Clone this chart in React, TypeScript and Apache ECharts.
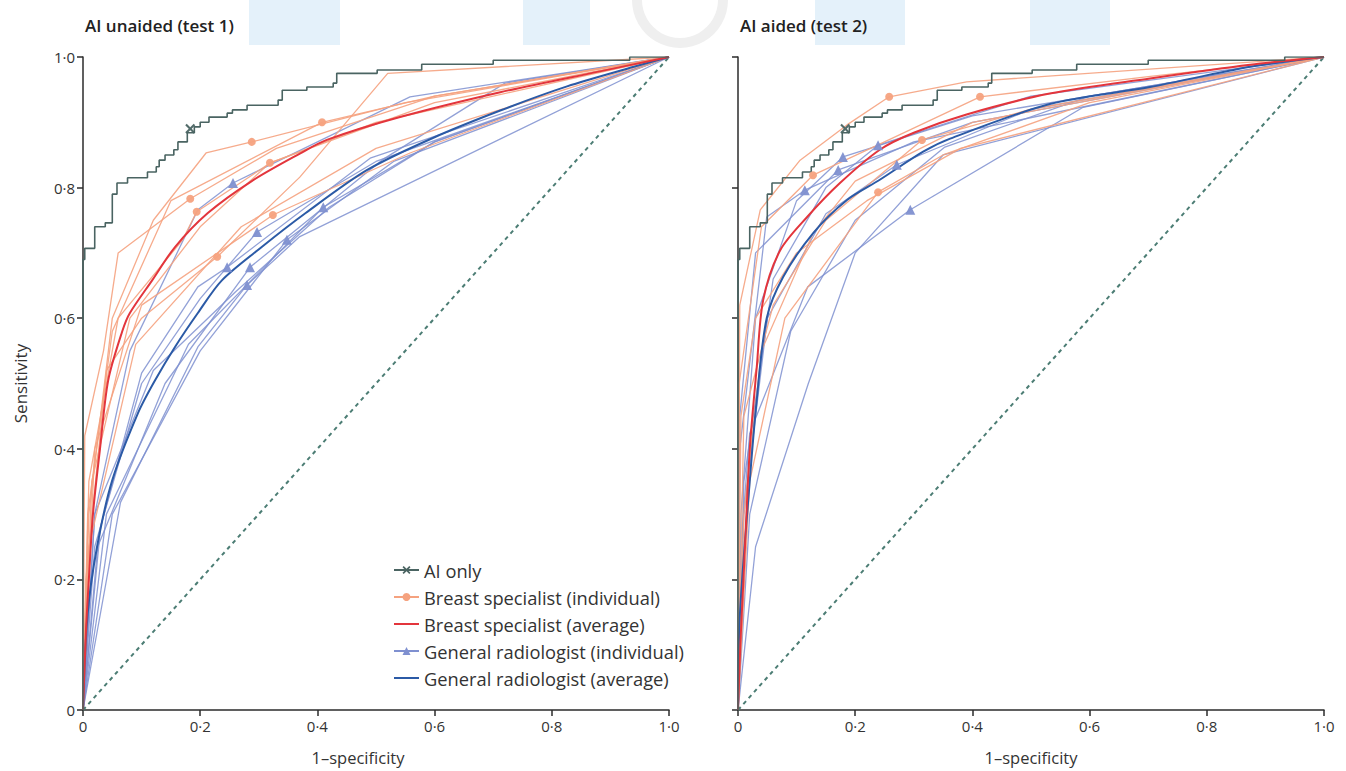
import React, { useEffect, useRef } from "react";
import * as echarts from "echarts";

type P = [number, number];

// ---------- data ----------
const aiOnly: P[] = [
  [0, 0], [0, 0.69], [0.003, 0.69], [0.003, 0.707], [0.02, 0.707], [0.02, 0.74], [0.038, 0.74],
  [0.038, 0.746], [0.05, 0.746], [0.05, 0.79], [0.058, 0.79], [0.058, 0.807], [0.076, 0.807],
  [0.076, 0.815], [0.11, 0.815], [0.11, 0.824], [0.125, 0.824], [0.125, 0.832], [0.13, 0.832],
  [0.13, 0.842], [0.14, 0.842], [0.14, 0.85], [0.155, 0.85], [0.155, 0.858], [0.162, 0.858],
  [0.162, 0.87], [0.178, 0.87], [0.178, 0.884], [0.19, 0.884], [0.19, 0.893], [0.2, 0.893],
  [0.2, 0.9], [0.215, 0.9], [0.215, 0.908], [0.246, 0.908], [0.246, 0.914], [0.255, 0.914],
  [0.255, 0.919], [0.28, 0.919], [0.28, 0.926], [0.333, 0.926], [0.333, 0.934], [0.34, 0.934],
  [0.34, 0.949], [0.382, 0.949], [0.382, 0.954], [0.427, 0.954], [0.427, 0.96], [0.433, 0.96],
  [0.433, 0.975], [0.502, 0.975], [0.502, 0.98], [0.578, 0.98], [0.578, 0.989], [0.7, 0.989],
  [0.7, 0.995], [0.933, 0.995], [0.933, 1.0], [1, 1],
];
const aiPoint: P = [0.183, 0.89];
const chance: P[] = [[0, 0], [1, 1]];

// Test 1 (AI unaided)
const breastAvg1: P[] = [
  [0, 0], [0.005, 0.12], [0.01, 0.2], [0.017, 0.3], [0.029, 0.4], [0.043, 0.505], [0.067, 0.58],
  [0.08, 0.608], [0.118, 0.658], [0.157, 0.709], [0.213, 0.761], [0.288, 0.81], [0.37, 0.852],
  [0.416, 0.873], [0.541, 0.908], [0.712, 0.946], [0.882, 0.978], [1, 1],
];
const generalAvg1: P[] = [
  [0, 0], [0.008, 0.148], [0.024, 0.25], [0.05, 0.352], [0.094, 0.455], [0.123, 0.505],
  [0.157, 0.556], [0.196, 0.608], [0.237, 0.658], [0.305, 0.709], [0.38, 0.761], [0.485, 0.827],
  [0.597, 0.876], [0.712, 0.918], [0.826, 0.955], [0.94, 0.985], [1, 1],
];
const breastInd1: P[][] = [
  [[0, 0], [0.003, 0.42], [0.035, 0.55], [0.06, 0.70], [0.183, 0.783], [0.33, 0.86], [0.6, 0.94], [1, 1]],
  [[0, 0], [0.01, 0.3], [0.05, 0.6], [0.12, 0.75], [0.21, 0.853], [0.288, 0.87], [0.55, 0.93], [1, 1]],
  [[0, 0], [0.005, 0.2], [0.04, 0.52], [0.1, 0.6], [0.229, 0.694], [0.37, 0.816], [0.52, 0.975], [1, 1]],
  [[0, 0], [0.02, 0.4], [0.1, 0.62], [0.324, 0.758], [0.558, 0.853], [1, 1]],
  [[0, 0], [0.01, 0.35], [0.06, 0.6], [0.17, 0.72], [0.194, 0.763], [0.32, 0.838], [0.5, 0.9], [1, 1]],
  [[0, 0], [0.008, 0.3], [0.05, 0.58], [0.15, 0.78], [0.408, 0.9], [0.6, 0.94], [1, 1]],
  [[0, 0], [0.015, 0.35], [0.08, 0.6], [0.2, 0.74], [0.319, 0.838], [0.6, 0.93], [1, 1]],
  [[0, 0], [0.01, 0.25], [0.09, 0.56], [0.27, 0.74], [0.5, 0.86], [1, 1]],
];
const breastPts1: P[] = [
  [0.183, 0.783], [0.288, 0.87], [0.229, 0.694], [0.324, 0.758], [0.194, 0.763], [0.408, 0.9], [0.319, 0.838],
];
const generalInd1: P[][] = [
  [[0, 0], [0.02, 0.3], [0.08, 0.55], [0.196, 0.766], [0.256, 0.807], [0.558, 0.939], [1, 1]],
  [[0, 0], [0.02, 0.25], [0.1, 0.5], [0.2, 0.63], [0.297, 0.732], [0.5, 0.84], [1, 1]],
  [[0, 0], [0.03, 0.28], [0.1, 0.516], [0.196, 0.648], [0.246, 0.678], [0.49, 0.845], [1, 1]],
  [[0, 0], [0.025, 0.25], [0.14, 0.5], [0.285, 0.678], [0.51, 0.842], [0.72, 0.96], [1, 1]],
  [[0, 0], [0.064, 0.318], [0.196, 0.556], [0.28, 0.651], [0.37, 0.725], [1, 1]],
  [[0, 0], [0.05, 0.3], [0.2, 0.55], [0.348, 0.72], [0.53, 0.84], [1, 1]],
  [[0, 0], [0.04, 0.3], [0.18, 0.56], [0.41, 0.77], [0.6, 0.87], [1, 1]],
  [[0, 0], [0.02, 0.3], [0.12, 0.52], [0.26, 0.64], [0.42, 0.77], [0.6, 0.87], [1, 1]],
];
const generalPts1: P[] = [
  [0.256, 0.807], [0.297, 0.732], [0.246, 0.678], [0.285, 0.678], [0.28, 0.651], [0.348, 0.72], [0.41, 0.77],
];

// Test 2 (AI aided)
const breastAvg2: P[] = [
  [0, 0], [0.004, 0.1], [0.009, 0.194], [0.02, 0.398], [0.032, 0.525], [0.043, 0.628], [0.072, 0.704],
  [0.118, 0.755], [0.174, 0.807], [0.242, 0.858], [0.3, 0.884], [0.39, 0.912], [0.532, 0.944],
  [0.703, 0.967], [0.874, 0.988], [1, 1],
];
const generalAvg2: P[] = [
  [0, 0], [0.003, 0.142], [0.02, 0.35], [0.032, 0.475], [0.049, 0.6], [0.077, 0.663], [0.128, 0.73],
  [0.186, 0.781], [0.242, 0.812], [0.316, 0.855], [0.362, 0.875], [0.532, 0.928], [0.703, 0.954],
  [0.874, 0.985], [1, 1],
];
const breastInd2: P[][] = [
  [[0, 0], [0.003, 0.62], [0.038, 0.766], [0.106, 0.842], [0.186, 0.896], [0.258, 0.939], [0.39, 0.962], [1, 1]],
  [[0, 0], [0.002, 0.5], [0.04, 0.74], [0.128, 0.819], [0.25, 0.87], [0.413, 0.939], [0.7, 0.97], [1, 1]],
  [[0, 0], [0.01, 0.45], [0.06, 0.62], [0.15, 0.75], [0.314, 0.873], [0.5, 0.92], [1, 1]],
  [[0, 0], [0.02, 0.35], [0.08, 0.6], [0.239, 0.793], [0.35, 0.85], [0.6, 0.93], [1, 1]],
  [[0, 0], [0.01, 0.3], [0.04, 0.55], [0.128, 0.73], [0.2, 0.81], [0.4, 0.9], [1, 1]],
  [[0, 0], [0.005, 0.45], [0.03, 0.6], [0.1, 0.7], [0.22, 0.78], [0.38, 0.86], [1, 1]],
];
const breastPts2: P[] = [[0.258, 0.939], [0.413, 0.939], [0.128, 0.819], [0.314, 0.873], [0.239, 0.793]];
const generalInd2: P[][] = [
  [[0, 0], [0.003, 0.4], [0.049, 0.755], [0.114, 0.796], [0.3, 0.87], [1, 1]],
  [[0, 0], [0.005, 0.25], [0.02, 0.424], [0.119, 0.648], [0.294, 0.766], [0.589, 0.923], [1, 1]],
  [[0, 0], [0.005, 0.3], [0.03, 0.6], [0.1, 0.78], [0.179, 0.847], [0.4, 0.91], [1, 1]],
  [[0, 0], [0.01, 0.35], [0.06, 0.66], [0.15, 0.8], [0.239, 0.865], [0.5, 0.94], [1, 1]],
  [[0, 0], [0.01, 0.3], [0.05, 0.6], [0.15, 0.76], [0.271, 0.835], [0.5, 0.92], [1, 1]],
  [[0, 0], [0.02, 0.3], [0.09, 0.58], [0.2, 0.75], [0.353, 0.862], [0.6, 0.94], [1, 1]],
  [[0, 0], [0.003, 0.45], [0.03, 0.7], [0.171, 0.827], [0.4, 0.9], [1, 1]],
  [[0, 0], [0.03, 0.25], [0.12, 0.5], [0.2, 0.7], [0.35, 0.85], [1, 1]],
];
const generalPts2: P[] = [
  [0.114, 0.796], [0.294, 0.766], [0.179, 0.847], [0.239, 0.865], [0.271, 0.835], [0.171, 0.827],
];

const legendNames = [
  "AI only",
  "Breast specialist (individual)",
  "Breast specialist (average)",
  "General radiologist (individual)",
  "General radiologist (average)",
];

// ---------- styles ----------
const C_AI = "#4a6462";
const C_BI = "#f5a27f";
const C_BA = "#e3353c";
const C_GI = "#7f90d0";
const C_GA = "#2b5aa6";
const C_DIAG = "#4c7d74";
const FONT = "'Open Sans', Lato, sans-serif";
const X_SYMBOL = "path://M1.5,0L5,3.5L8.5,0L10,1.5L6.5,5L10,8.5L8.5,10L5,6.5L1.5,10L0,8.5L3.5,5L0,1.5Z";

const fmt = (v: number) => (v === 0 ? "0" : v.toFixed(1).replace(".", "·"));

export default function App() {
  const ref = useRef<HTMLDivElement>(null);
  useEffect(() => {
    if (!ref.current) return;
    const chart = echarts.init(ref.current, undefined, { renderer: "svg" });

    const line = (data: P[], color: string, width: number, i: number, z: number, extra: any = {}) => ({
      type: "line",
      xAxisIndex: i,
      yAxisIndex: i,
      data,
      symbol: "none",
      silent: true,
      z,
      lineStyle: { color, width },
      ...extra,
    });
    const scatter = (data: P[], color: string, symbol: string, size: number, i: number, z: number) => ({
      type: "scatter",
      xAxisIndex: i,
      yAxisIndex: i,
      data,
      symbol,
      symbolSize: size,
      silent: true,
      z,
      itemStyle: { color, opacity: 0.95 },
    });

    const series: any[] = [
      // legend-only series
      { type: "line", name: legendNames[0], data: [], symbol: X_SYMBOL, symbolSize: 10, itemStyle: { color: C_AI }, lineStyle: { color: C_AI, width: 2 } },
      { type: "line", name: legendNames[1], data: [], symbol: "circle", symbolSize: 8, itemStyle: { color: C_BI }, lineStyle: { color: C_BI, width: 2 } },
      { type: "line", name: legendNames[2], data: [], symbol: "circle", itemStyle: { color: C_BA, opacity: 0 }, lineStyle: { color: C_BA, width: 2, opacity: 1 } },
      { type: "line", name: legendNames[3], data: [], symbol: "triangle", symbolSize: 9, itemStyle: { color: C_GI }, lineStyle: { color: C_GI, width: 2 } },
      { type: "line", name: legendNames[4], data: [], symbol: "circle", itemStyle: { color: C_GA, opacity: 0 }, lineStyle: { color: C_GA, width: 2, opacity: 1 } },
    ];

    const panels = [
      { bi: breastInd1, bp: breastPts1, gi: generalInd1, gp: generalPts1, ba: breastAvg1, ga: generalAvg1 },
      { bi: breastInd2, bp: breastPts2, gi: generalInd2, gp: generalPts2, ba: breastAvg2, ga: generalAvg2 },
    ];
    panels.forEach((p, i) => {
      series.push(line(chance, C_DIAG, 2, i, 1, { lineStyle: { color: C_DIAG, width: 2, type: [4, 4] } }));
      p.gi.forEach((d) => series.push(line(d, C_GI, 1.3, i, 2, { lineStyle: { color: C_GI, width: 1.3, opacity: 0.85 } })));
      p.bi.forEach((d) => series.push(line(d, C_BI, 1.3, i, 3, { lineStyle: { color: C_BI, width: 1.3, opacity: 0.9 } })));
      series.push(line(p.ga, C_GA, 2, i, 5, { smooth: 0.3 }));
      series.push(line(p.ba, C_BA, 2, i, 5, { smooth: 0.3 }));
      series.push(line(aiOnly, C_AI, 1.6, i, 6));
      series.push(scatter(p.bp, C_BI, "circle", 8, i, 7));
      series.push(scatter(p.gp, C_GI, "triangle", 10, i, 7));
      series.push(scatter([aiPoint], C_AI, X_SYMBOL, 10, i, 8));
    });

    const axisCommon = {
      type: "value",
      min: 0,
      max: 1,
      interval: 0.2,
      splitLine: { show: false },
      axisLine: { show: true, lineStyle: { color: "#2b2b2b", width: 1.5 } },
      axisTick: { show: true, length: 6, lineStyle: { color: "#2b2b2b", width: 1.5 } },
    };
    const xAxis = [0, 1].map((i) => ({
      ...axisCommon,
      gridIndex: i,
      name: "1–specificity",
      nameLocation: "middle",
      nameGap: 39,
      nameTextStyle: { fontFamily: FONT, fontSize: 16.5, color: "#333", padding: i === 0 ? [0, 36, 0, 0] : 0 },
      axisLabel: { formatter: fmt, fontFamily: FONT, fontSize: 15, color: "#333", margin: 8 },
    }));
    const yAxis = [0, 1].map((i) => ({
      ...axisCommon,
      gridIndex: i,
      name: i === 0 ? "Sensitivity" : "",
      nameLocation: "middle",
      nameGap: 54,
      nameTextStyle: { fontFamily: FONT, fontSize: 17, color: "#333" },
      axisLabel: { show: i === 0, formatter: fmt, fontFamily: FONT, fontSize: 15, color: "#333", margin: 8 },
    }));

    chart.setOption({
      animation: false,
      backgroundColor: "#ffffff",
      title: [
        { text: "AI unaided (test 1)", left: 80, top: 12, textStyle: { fontFamily: FONT, fontSize: 17, fontWeight: 600, color: "#222" } },
        { text: "AI aided (test 2)", left: 735, top: 12, textStyle: { fontFamily: FONT, fontSize: 17, fontWeight: 600, color: "#222" } },
      ],
      graphic: [
        { type: "rect", shape: { x: 249, y: 0, width: 91, height: 45 }, style: { fill: "#e4f1fa" }, silent: true, z: -10 },
        { type: "rect", shape: { x: 523, y: 0, width: 67, height: 45 }, style: { fill: "#e4f1fa" }, silent: true, z: -10 },
        { type: "rect", shape: { x: 815, y: 0, width: 90, height: 45 }, style: { fill: "#e4f1fa" }, silent: true, z: -10 },
        { type: "rect", shape: { x: 1030, y: 0, width: 80, height: 45 }, style: { fill: "#e4f1fa" }, silent: true, z: -10 },
        { type: "ring", shape: { cx: 680, cy: 0, r: 48, r0: 38 }, style: { fill: "#efefef" }, silent: true, z: -10 },
      ],
      legend: {
        data: legendNames,
        orient: "vertical",
        left: 388,
        top: 556,
        itemWidth: 25,
        itemHeight: 10,
        itemGap: 9,
        selectedMode: false,
        textStyle: { fontFamily: FONT, fontSize: 18.3, color: "#333" },
      },
      grid: [
        { left: 83, top: 57, width: 586, height: 653, outerBoundsMode: "none", containLabel: false },
        { left: 738, top: 57, width: 586, height: 653, outerBoundsMode: "none", containLabel: false },
      ],
      xAxis,
      yAxis,
      series,
    });
    return () => chart.dispose();
  }, []);

  return <div ref={ref} style={{ position: "fixed", left: 0, top: 0, width: 1346, height: 771 }} />;
}
